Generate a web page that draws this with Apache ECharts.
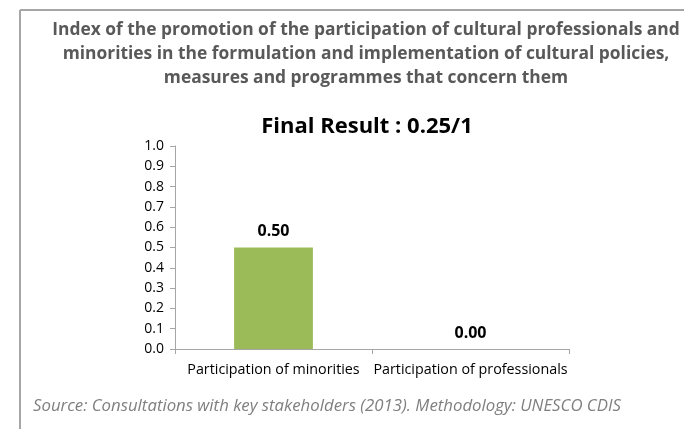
<!DOCTYPE html>
<html><head><meta charset="utf-8">
<script src="https://cdn.jsdelivr.net/npm/echarts@6/dist/echarts.min.js"></script>
<style>html,body{margin:0;padding:0;background:#fff}#c{width:684px;height:429px}</style>
</head><body><div id="c"></div>
<script>
var categories = ['Participation of minorities', 'Participation of professionals'];
var values = [0.50, 0.00];
var titleText = 'Index of the promotion of the participation of cultural professionals and\nminorities in the formulation and implementation of cultural policies,\nmeasures and programmes that concern them';
var subtitleText = 'Final Result : 0.25/1';
var sourceText = 'Source: Consultations with key stakeholders (2013). Methodology: UNESCO CDIS';
var FONT = '"Open Sans", sans-serif';
var chart = echarts.init(document.getElementById('c'), null, {renderer: 'canvas'});
chart.setOption({
  animation: false,
  graphic: [
    {type: 'line', shape: {x1: 20, y1: 10, x2: 684, y2: 10}, style: {stroke: '#a6a6a6', lineWidth: 2}},
    {type: 'line', shape: {x1: 20, y1: 10, x2: 20, y2: 429}, style: {stroke: '#a6a6a6', lineWidth: 2}},
    {type: 'text', left: 33, top: 398, style: {text: sourceText, font: 'italic 16.8px ' + FONT, fill: '#7f7f7f'}}
  ],
  title: [
    {text: titleText, left: 361, top: 13, textAlign: 'center',
     textStyle: {fontFamily: FONT, fontWeight: 'bold', fontSize: 17.4, color: '#595959', lineHeight: 24}},
    {text: subtitleText, left: 362, top: 111, textAlign: 'center',
     textStyle: {fontFamily: FONT, fontWeight: 'bold', fontSize: 22, color: '#000'}}
  ],
  grid: {left: 175, right: 115, top: 146, bottom: 80, containLabel: false},
  xAxis: {
    type: 'category', data: categories,
    axisLine: {lineStyle: {color: '#a6a6a6', width: 1}},
    axisTick: {show: true, length: 5, alignWithLabel: false, lineStyle: {color: '#a6a6a6'}},
    axisLabel: {fontFamily: FONT, fontSize: 14.3, color: '#000', margin: 14, interval: 0}
  },
  yAxis: {
    type: 'value', min: 0, max: 1, interval: 0.1,
    axisLine: {show: true, lineStyle: {color: '#a6a6a6', width: 1}},
    axisTick: {show: true, length: 5, lineStyle: {color: '#a6a6a6'}},
    splitLine: {show: false},
    axisLabel: {fontFamily: FONT, fontSize: 14, color: '#000', margin: 11,
      formatter: function (v) { return v.toFixed(1); }}
  },
  series: [{
    type: 'bar', data: values, barWidth: '40%',
    itemStyle: {color: '#9bbb59'},
    label: {show: true, position: 'top', distance: 8, fontFamily: FONT, fontWeight: 'bold', fontSize: 16, color: '#000',
      formatter: function (p) { return p.value.toFixed(2); }}
  }]
});
</script></body></html>
